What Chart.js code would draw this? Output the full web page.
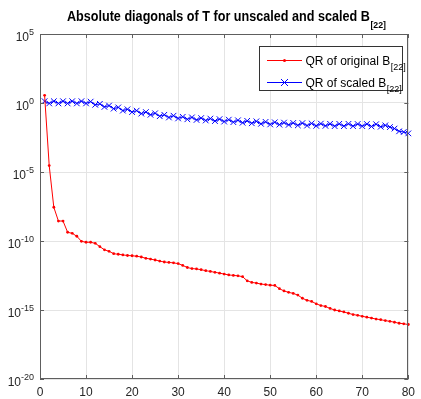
<!DOCTYPE html>
<html><head><meta charset="utf-8">
<script src="https://cdn.jsdelivr.net/npm/chart.js@4"></script>
<style>html,body{margin:0;padding:0;background:#fff;overflow:hidden}#wrap{width:421px;height:399px;position:relative}</style>
</head><body><div id="wrap"><canvas id="c" width="421" height="399"></canvas></div>
<script>
const titleMain = 'Absolute diagonals of T for unscaled and scaled B';
const titleSub = '[22]';
const seriesNames = ['QR of original B', 'QR of scaled B'];
const seriesSub = '[22]';

const xValues = [1,2,3,4,5,6,7,8,9,10,11,12,13,14,15,16,17,18,19,20,
  21,22,23,24,25,26,27,28,29,30,31,32,33,34,35,36,37,38,39,40,
  41,42,43,44,45,46,47,48,49,50,51,52,53,54,55,56,57,58,59,60,
  61,62,63,64,65,66,67,68,69,70,71,72,73,74,75,76,77,78,79,80];

const originalValues = [3.6, 2.9e-5, 2.8e-8, 2.8e-9, 2.8e-9, 4.3e-10, 3.6e-10, 2.2e-10, 9.5e-11, 8.1e-11,
  8.1e-11, 6.8e-11, 3.9e-11, 2.3e-11, 1.8e-11, 1.2e-11, 1.1e-11, 9.8e-12, 8.9e-12, 8.5e-12,
  7.9e-12, 6.9e-12, 5.6e-12, 4.9e-12, 4.2e-12, 3.5e-12, 3.0e-12, 2.8e-12, 2.6e-12, 2.3e-12,
  1.7e-12, 1.2e-12, 1.0e-12, 9.5e-13, 8.3e-13, 7.1e-13, 6.2e-13, 5.4e-13, 4.7e-13, 4.0e-13,
  3.5e-13, 3.2e-13, 3.0e-13, 2.6e-13, 1.3e-13, 1.0e-13, 8.9e-14, 7.6e-14, 6.9e-14, 6.3e-14,
  6.0e-14, 3.5e-14, 2.4e-14, 1.9e-14, 1.6e-14, 1.2e-14, 7.1e-15, 5.0e-15, 4.2e-15, 2.8e-15,
  2.1e-15, 1.8e-15, 1.3e-15, 1.0e-15, 8.5e-16, 7.2e-16, 5.8e-16, 4.7e-16, 4.1e-16, 3.5e-16,
  3.0e-16, 2.6e-16, 2.2e-16, 2.0e-16, 1.7e-16, 1.5e-16, 1.3e-16, 1.1e-16, 1.0e-16, 8.9e-17];

const scaledValues = [1.35, 0.93, 1.35, 0.93, 1.35, 0.93, 1.35, 0.93, 1.35, 0.93,
  1.26, 0.74, 0.87, 0.52, 0.65, 0.39, 0.48, 0.28, 0.35, 0.22,
  0.28, 0.17, 0.22, 0.14, 0.18, 0.11, 0.14, 0.089, 0.12, 0.076,
  0.10, 0.066, 0.091, 0.059, 0.081, 0.054, 0.074, 0.049, 0.068, 0.045,
  0.062, 0.041, 0.056, 0.037, 0.051, 0.034, 0.047, 0.031, 0.043, 0.028,
  0.040, 0.027, 0.038, 0.026, 0.036, 0.024, 0.035, 0.023, 0.033, 0.022,
  0.032, 0.022, 0.031, 0.021, 0.031, 0.021, 0.031, 0.021, 0.030, 0.021,
  0.030, 0.020, 0.029, 0.019, 0.024, 0.018, 0.014, 0.0089, 0.0079, 0.0063];

const xTickValues = [0, 10, 20, 30, 40, 50, 60, 70, 80];
const xTickLabels = ['0', '10', '20', '30', '40', '50', '60', '70', '80'];
const yTickValues = [1e-20, 1e-15, 1e-10, 1e-5, 1e0, 1e5];
const yTickBase = '10';
const yTickExponents = ['-20', '-15', '-10', '-5', '0', '5'];

const FONT = '"Liberation Sans", Arial, Helvetica, sans-serif';
const TEXT = '#262626';
const RED = '#ff0000';
const BLUE = '#0000ff';

function drawSub(ctx, x, y, main, sub, mainFont, subFont, subDy) {
  ctx.font = mainFont;
  ctx.fillText(main, x, y);
  const w = ctx.measureText(main).width;
  ctx.font = subFont;
  ctx.fillText(sub, x + w + 0.5, y + subDy);
  return w + ctx.measureText(sub).width;
}

const overlay = {
  id: 'overlay',
  afterDatasetsDraw(chart) {
    const ctx = chart.ctx;
    const { left, right, top, bottom } = chart.chartArea;
    const xs = chart.scales.x, ys = chart.scales.y;
    ctx.save();
    // frame
    ctx.strokeStyle = '#5e5e5e';
    ctx.lineWidth = 1;
    ctx.strokeRect(Math.round(left) + 0.5, Math.round(top) + 0.5, Math.round(right - left) - 1, Math.round(bottom - top) - 1);
    // inward tick marks
    ctx.beginPath();
    xs.ticks.forEach(t => {
      const px = Math.round(xs.getPixelForValue(t.value)) + 0.5;
      ctx.moveTo(px, bottom); ctx.lineTo(px, bottom - 4);
      ctx.moveTo(px, top); ctx.lineTo(px, top + 4);
    });
    ys.ticks.forEach(t => {
      const py = Math.round(ys.getPixelForValue(t.value)) + 0.5;
      ctx.moveTo(left, py); ctx.lineTo(left + 4, py);
      ctx.moveTo(right, py); ctx.lineTo(right - 4, py);
    });
    ctx.stroke();

    // y tick labels: 10 with superscript exponent
    ctx.fillStyle = TEXT;
    ctx.textBaseline = 'alphabetic';
    ys.ticks.forEach(t => {
      const i = yTickValues.indexOf(t.value);
      if (i < 0) return;
      const py = ys.getPixelForValue(t.value);
      const expFont = '9px ' + FONT, baseFont = '12px ' + FONT;
      ctx.font = expFont;
      ctx.textAlign = 'right';
      const ex = left - 6;
      ctx.fillText(yTickExponents[i], ex, py + 1);
      const we = ctx.measureText(yTickExponents[i]).width;
      ctx.font = baseFont;
      ctx.fillText(yTickBase, ex - we, py + 7);
    });

    // title
    ctx.fillStyle = '#000';
    ctx.textAlign = 'left';
    const tf = 'bold 13px ' + FONT, sf = 'bold 9px ' + FONT;
    ctx.font = tf;
    const wm = ctx.measureText(titleMain).width;
    ctx.font = sf;
    const wsub = ctx.measureText(titleSub).width;
    const sx = 303 / wm;
    const total = (wm + wsub) * sx;
    const cx = (left + right) / 2 + 2;
    ctx.save();
    ctx.translate(cx - total / 2, 0);
    ctx.scale(sx, 1.1);
    drawSub(ctx, 0, 20.5 / 1.1, titleMain, titleSub, tf, sf, 7 / 1.1);
    ctx.restore();

    // legend
    const bx = 259.5, by = 46.5, bw = 143, bh = 44;
    ctx.fillStyle = '#fff';
    ctx.fillRect(bx, by, bw, bh);
    ctx.strokeStyle = '#333';
    ctx.strokeRect(bx, by, bw, bh);
    const rows = [
      { y: 60.5, color: RED, name: seriesNames[0], marker: 'dot' },
      { y: 82.5, color: BLUE, name: seriesNames[1], marker: 'x' }
    ];
    rows.forEach(r => {
      ctx.strokeStyle = r.color;
      ctx.lineWidth = 1;
      ctx.beginPath(); ctx.moveTo(267, r.y); ctx.lineTo(302, r.y); ctx.stroke();
      const mx = 284.5;
      if (r.marker === 'dot') {
        ctx.fillStyle = r.color;
        ctx.beginPath(); ctx.arc(mx, r.y, 1.5, 0, Math.PI * 2); ctx.fill();
      } else {
        ctx.beginPath();
        ctx.moveTo(mx - 3.5, r.y - 3.5); ctx.lineTo(mx + 3.5, r.y + 3.5);
        ctx.moveTo(mx - 3.5, r.y + 3.5); ctx.lineTo(mx + 3.5, r.y - 3.5);
        ctx.stroke();
      }
      ctx.fillStyle = '#000';
      drawSub(ctx, 305.5, r.y + 4.5, r.name, seriesSub, '12px ' + FONT, '9px ' + FONT, 5);
    });
    ctx.restore();
  }
};

new Chart(document.getElementById('c'), {
  type: 'line',
  data: {
    datasets: [
      {
        label: seriesNames[0],
        data: xValues.map((x, i) => ({ x: x, y: originalValues[i] })),
        borderColor: RED, backgroundColor: RED, borderWidth: 1,
        pointRadius: 1.4, pointBorderWidth: 0, pointBackgroundColor: RED,
        tension: 0, clip: 6
      },
      {
        label: seriesNames[1],
        data: xValues.map((x, i) => ({ x: x, y: scaledValues[i] })),
        borderColor: BLUE, backgroundColor: BLUE, borderWidth: 1,
        pointStyle: 'crossRot', pointRadius: 4, pointBorderWidth: 1, pointBorderColor: BLUE,
        tension: 0, clip: 6
      }
    ]
  },
  options: {
    responsive: false, animation: false, devicePixelRatio: 1,
    layout: { padding: { top: 34, right: 8, left: 0, bottom: 0 } },
    plugins: { legend: { display: false }, title: { display: false }, tooltip: { enabled: false } },
    scales: {
      x: {
        type: 'linear', min: 0, max: 80,
        afterBuildTicks: s => { s.ticks = xTickValues.map(v => ({ value: v })); },
        afterFit: s => { s.height = 20; },
        grid: { color: '#e4e4e4', drawTicks: false },
        border: { display: false },
        ticks: {
          font: { family: FONT, size: 12 }, color: TEXT, padding: 6, maxRotation: 0, autoSkip: false,
          callback: v => xTickLabels[xTickValues.indexOf(v)]
        }
      },
      y: {
        type: 'logarithmic', min: 1e-20, max: 1e5,
        afterBuildTicks: s => { s.ticks = yTickValues.map(v => ({ value: v, major: true })); },
        afterFit: s => { s.width = 40; },
        grid: { color: '#e4e4e4', drawTicks: false },
        border: { display: false },
        ticks: { display: false }
      }
    }
  },
  plugins: [overlay]
});
</script>
</body></html>
